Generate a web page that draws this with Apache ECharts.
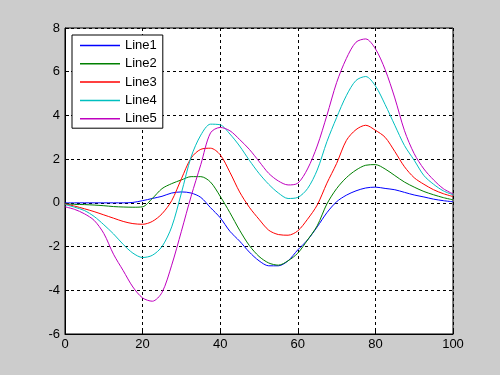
<!DOCTYPE html>
<html>
<head>
<meta charset="utf-8">
<script src="https://cdn.jsdelivr.net/npm/echarts@6/dist/echarts.min.js"></script>
<style>
html,body{margin:0;padding:0;background:#cccccc;}
#chart{width:500px;height:375px;}
</style>
</head>
<body>
<div id="chart"></div>
<script>
var xValues = [0,2.5,5,7.5,10,12.5,15,17.5,20,22.5,25,27.5,30,32.5,35,37.5,40,42.5,45,47.5,50,52.5,55,57.5,60,62.5,65,67.5,70,72.5,75,77.5,80,82.5,85,87.5,90,92.5,95,97.5,100];
var seriesNames = ['Line1','Line2','Line3','Line4','Line5'];
var line1 = [0,0,0,0,0,0,0,0.02,0.1,0.2,0.3,0.45,0.5,0.45,0.25,-0.22,-0.68,-1.3,-1.75,-2.25,-2.65,-2.88,-2.88,-2.65,-2.15,-1.7,-1.1,-0.45,0.05,0.35,0.55,0.68,0.72,0.66,0.6,0.48,0.36,0.27,0.17,0.1,0.05];
var line2 = [-0.05,-0.07,-0.08,-0.1,-0.13,-0.17,-0.19,-0.2,-0.18,0.2,0.65,0.88,1.05,1.2,1.2,0.95,0.3,-0.45,-1.25,-1.95,-2.45,-2.75,-2.85,-2.65,-2.3,-1.7,-1.05,-0.05,0.65,1.15,1.5,1.72,1.75,1.55,1.25,0.95,0.72,0.52,0.37,0.24,0.14];
var line3 = [-0.05,-0.15,-0.27,-0.4,-0.55,-0.7,-0.85,-0.95,-0.98,-0.85,-0.5,0.1,1.1,2.05,2.45,2.5,2.2,1.4,0.5,-0.2,-0.75,-1.25,-1.45,-1.48,-1.28,-0.75,-0.1,0.9,1.8,2.85,3.35,3.55,3.32,3.0,2.35,1.65,1.15,0.85,0.6,0.42,0.29];
var line4 = [-0.08,-0.2,-0.35,-0.62,-1.0,-1.42,-1.9,-2.3,-2.5,-2.4,-2.0,-1.1,0.45,2.1,3.1,3.6,3.57,3.15,2.6,1.95,1.35,0.85,0.45,0.2,0.25,0.65,1.5,2.8,3.9,4.9,5.6,5.78,5.35,4.5,3.55,2.62,1.95,1.25,0.85,0.55,0.37];
var line5 = [-0.18,-0.3,-0.5,-0.8,-1.4,-2.35,-3.1,-3.85,-4.35,-4.5,-4.1,-2.85,-1.3,0.3,1.75,3.2,3.45,3.3,2.9,2.45,1.9,1.35,1.0,0.82,0.9,1.55,2.6,4.0,5.5,6.6,7.35,7.5,7.05,6.1,4.8,3.3,2.25,1.55,1.05,0.65,0.41];
var colors = ['#0000ff','#008000','#ff0000','#00bfbf','#bf00bf'];

var allY = [line1,line2,line3,line4,line5];
function pairs(ys){ return xValues.map(function(x,i){ return [x, ys[i]]; }); }

var chart = echarts.init(document.getElementById('chart'));
var labelFont = {color:'#000', fontFamily:'Liberation Sans, Arial, sans-serif', fontSize:13};
chart.setOption({
  backgroundColor:'#cccccc',
  animation:false,
  grid:{left:65, right:47, top:28, bottom:41, show:true, backgroundColor:'#ffffff', borderColor:'#000', borderWidth:1},
  legend:{
    left:72, top:35, orient:'vertical',
    backgroundColor:'#ffffff', borderColor:'#000', borderWidth:1,
    padding:[4,6,3,8], itemWidth:40, itemHeight:14, itemGap:5.3,
    icon:'path://M0,0L40,0L40,1.5L0,1.5Z',
    textStyle:{color:'#000', fontFamily:'Liberation Sans, Arial, sans-serif', fontSize:13},
    data: seriesNames.map(function(n,i){ return {name:n, itemStyle:{color:colors[i], borderWidth:0}}; })
  },
  xAxis:{
    type:'value', min:0, max:100, interval:20,
    axisLine:{show:true, onZero:false, lineStyle:{color:'#000'}},
    axisTick:{show:true, inside:true, length:4, lineStyle:{color:'#000'}},
    axisLabel:Object.assign({margin:4}, labelFont),
    splitLine:{show:true, lineStyle:{color:'#000', type:[3,3], width:1}}
  },
  yAxis:{
    type:'value', min:-6, max:8, interval:2,
    axisLine:{show:true, onZero:false, lineStyle:{color:'#000'}},
    axisTick:{show:true, inside:true, length:4, lineStyle:{color:'#000'}},
    axisLabel:Object.assign({margin:5}, labelFont),
    splitLine:{show:true, lineStyle:{color:'#000', type:[3,3], width:1}}
  },
  series: seriesNames.map(function(n,i){
    return {
      name:n, type:'line', data:pairs(allY[i]), smooth:0.3,
      symbol:'none', showSymbol:false,
      lineStyle:{color:colors[i], width:1}, itemStyle:{color:colors[i]},
      z: 3
    };
  })
});
</script>
</body>
</html>
